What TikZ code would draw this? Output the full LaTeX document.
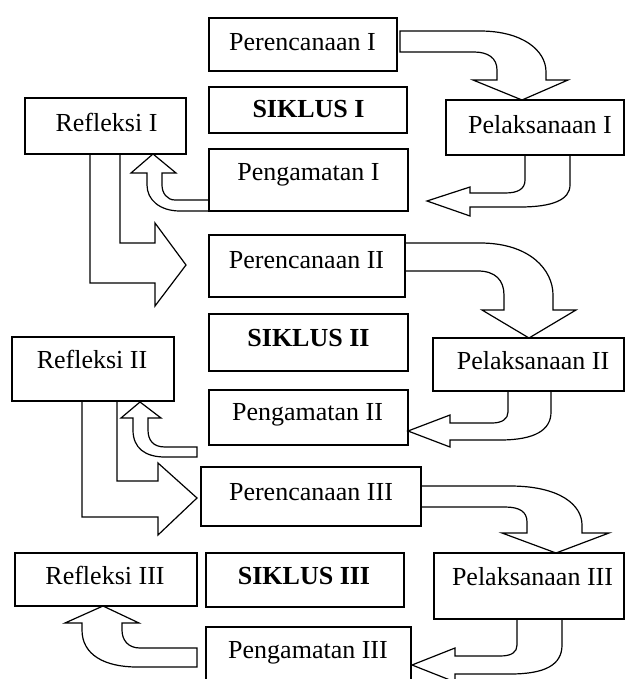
\documentclass[tikz,border=0pt]{standalone}
\usepackage{fontspec}
\setmainfont{Liberation Serif}
\begin{document}
\begin{tikzpicture}[x=1pt,y=-1pt,
  box/.style={draw,line width=1.2pt,inner sep=0pt,outer sep=0pt},
  txt/.style={inner sep=0pt,text height=17pt,text depth=0pt,font=\fontsize{26}{30}\selectfont},
  btxt/.style={txt,font=\fontsize{26}{30}\selectfont\bfseries},
  blk/.style={draw,line width=1.2pt,line join=miter}]
\useasboundingbox (0,0) rectangle (627,679);
\clip (0,0) rectangle (627,679);
% boxes
\node[box,minimum width=188pt,minimum height=53pt] (per1) at (303,44.5) {};
\node[box,minimum width=198pt,minimum height=46pt] (sik1) at (308,110) {};
\node[box,minimum width=199pt,minimum height=62pt] (peng1) at (308.5,180) {};
\node[box,minimum width=161pt,minimum height=56pt] (ref1) at (105.5,126) {};
\node[box,minimum width=178pt,minimum height=55pt] (pel1) at (535,127.5) {};
\node[box,minimum width=196pt,minimum height=62pt] (per2) at (307,266) {};
\node[box,minimum width=199pt,minimum height=57pt] (sik2) at (308.5,342.5) {};
\node[box,minimum width=162pt,minimum height=64pt] (ref2) at (93,369) {};
\node[box,minimum width=191pt,minimum height=53pt] (pel2) at (528.5,364.5) {};
\node[box,minimum width=199pt,minimum height=55pt] (peng2) at (308.5,417.5) {};
\node[box,minimum width=220pt,minimum height=59pt] (per3) at (311,496.5) {};
\node[box,minimum width=182pt,minimum height=53pt] (ref3) at (106,579.5) {};
\node[box,minimum width=198pt,minimum height=54pt] (sik3) at (305,580) {};
\node[box,minimum width=190pt,minimum height=66pt] (pel3) at (529,586) {};
\node[box,minimum width=205pt,minimum height=63pt] (peng3) at (308.5,658.5) {};
% texts
\node[txt] (tper1) at (302.5,42) {Perencanaan I};
\node[btxt] (tsik1) at (308.5,109) {SIKLUS I};
\node[txt] (tpeng1) at (308.5,172) {Pengamatan I};
\node[txt] (tref1) at (106.5,123) {Refleksi I};
\node[txt] (tpel1) at (540,125) {Pelaksanaan I};
\node[txt] (tper2) at (306.5,260) {Perencanaan II};
\node[btxt] (tsik2) at (308.5,338) {SIKLUS II};
\node[txt] (tref2) at (92,360) {Refleksi II};
\node[txt] (tpel2) at (533,361) {Pelaksanaan II};
\node[txt] (tpeng2) at (307.5,412) {Pengamatan II};
\node[txt] (tper3) at (311,492) {Perencanaan III};
\node[txt] (tref3) at (105,576) {Refleksi III};
\node[btxt] (tsik3) at (304,576) {SIKLUS III};
\node[txt] (tpel3) at (532.5,577) {Pelaksanaan III};
\node[txt] (tpeng3) at (308,650) {Pengamatan III};
% block arrows
% Perencanaan I -> Pelaksanaan I
\draw[blk] (400,31) -- (480,31) .. controls (522,31) and (546,50) .. (546,72) -- (546,80) -- (568,80) -- (522,100) -- (473,80) -- (497,80) -- (497,70) .. controls (497,58) and (488,52) .. (474,52) -- (400,52) -- cycle;
% Pelaksanaan I -> Pengamatan I
\draw[blk] (525,155) -- (525,180) .. controls (525,189) and (518,193) .. (505,193) -- (470,193) -- (470,187) -- (427,201) -- (470,216) -- (470,207) -- (520,207) .. controls (552,207) and (570,200) .. (570,185) -- (570,155);
% Pengamatan I -> Refleksi I
\draw[blk] (209,200) -- (175,200) .. controls (167,200) and (162,193) .. (162,185) -- (162,173) -- (176,173) -- (153,154) -- (131,173) -- (147,173) -- (147,185) .. controls (147,200) and (160,211) .. (180,211) -- (209,211);
% Refleksi I -> Perencanaan II
\draw[blk] (120,154) -- (120,243) -- (155,243) -- (155,223) -- (186,265) -- (155,306) -- (155,283) -- (90,283) -- (90,154);
% Perencanaan II -> Pelaksanaan II
\draw[blk] (405,243) -- (480,243) .. controls (530,243) and (553,270) .. (553,295) -- (553,310) -- (576,310) -- (529,338) -- (482,310) -- (504,310) -- (504,295) .. controls (504,280) and (495,271) .. (478,271) -- (405,271);
% Pelaksanaan II -> Pengamatan II
\draw[blk] (508,391) -- (508,412) .. controls (508,419) and (502,423) .. (492,423) -- (450,423) -- (450,415) -- (408,431) -- (450,447) -- (450,440) -- (500,440) .. controls (535,440) and (551,430) .. (551,412) -- (551,391);
% Pengamatan II -> Refleksi II
\draw[blk] (197,447) -- (165,447) .. controls (153,447) and (148,440) .. (148,430) -- (148,418) -- (161,418) -- (140,402) -- (121,418) -- (133,418) -- (133,430) .. controls (133,448) and (145,457) .. (165,457) -- (197,457) -- cycle;
% Refleksi II -> Perencanaan III
\draw[blk] (117,401) -- (117,481) -- (158,481) -- (158,463) -- (197,498) -- (158,535) -- (158,517) -- (82,517) -- (82,401);
% Perencanaan III -> Pelaksanaan III
\draw[blk] (421,486) -- (510,486) .. controls (560,486) and (582,505) .. (582,525) -- (582,533) -- (609,533) -- (556,553) -- (502,533) -- (527,533) -- (527,522) .. controls (527,512) and (520,507) .. (505,507) -- (421,507);
% Pelaksanaan III -> Pengamatan III
\draw[blk] (517,619) -- (517,645) .. controls (517,652) and (512,656) .. (500,656) -- (455,656) -- (455,648) -- (412,665) -- (455,682) -- (455,674) -- (510,674) .. controls (545,674) and (562,665) .. (562,645) -- (562,619);
% Pengamatan III -> Refleksi III
\draw[blk] (197,648) -- (140,648) .. controls (128,648) and (122,640) .. (122,630) -- (122,623) -- (139,623) -- (103,606) -- (65,623) -- (82,623) -- (82,630) .. controls (82,655) and (105,667) .. (137,667) -- (197,667) -- cycle;
\end{tikzpicture}
\end{document}
